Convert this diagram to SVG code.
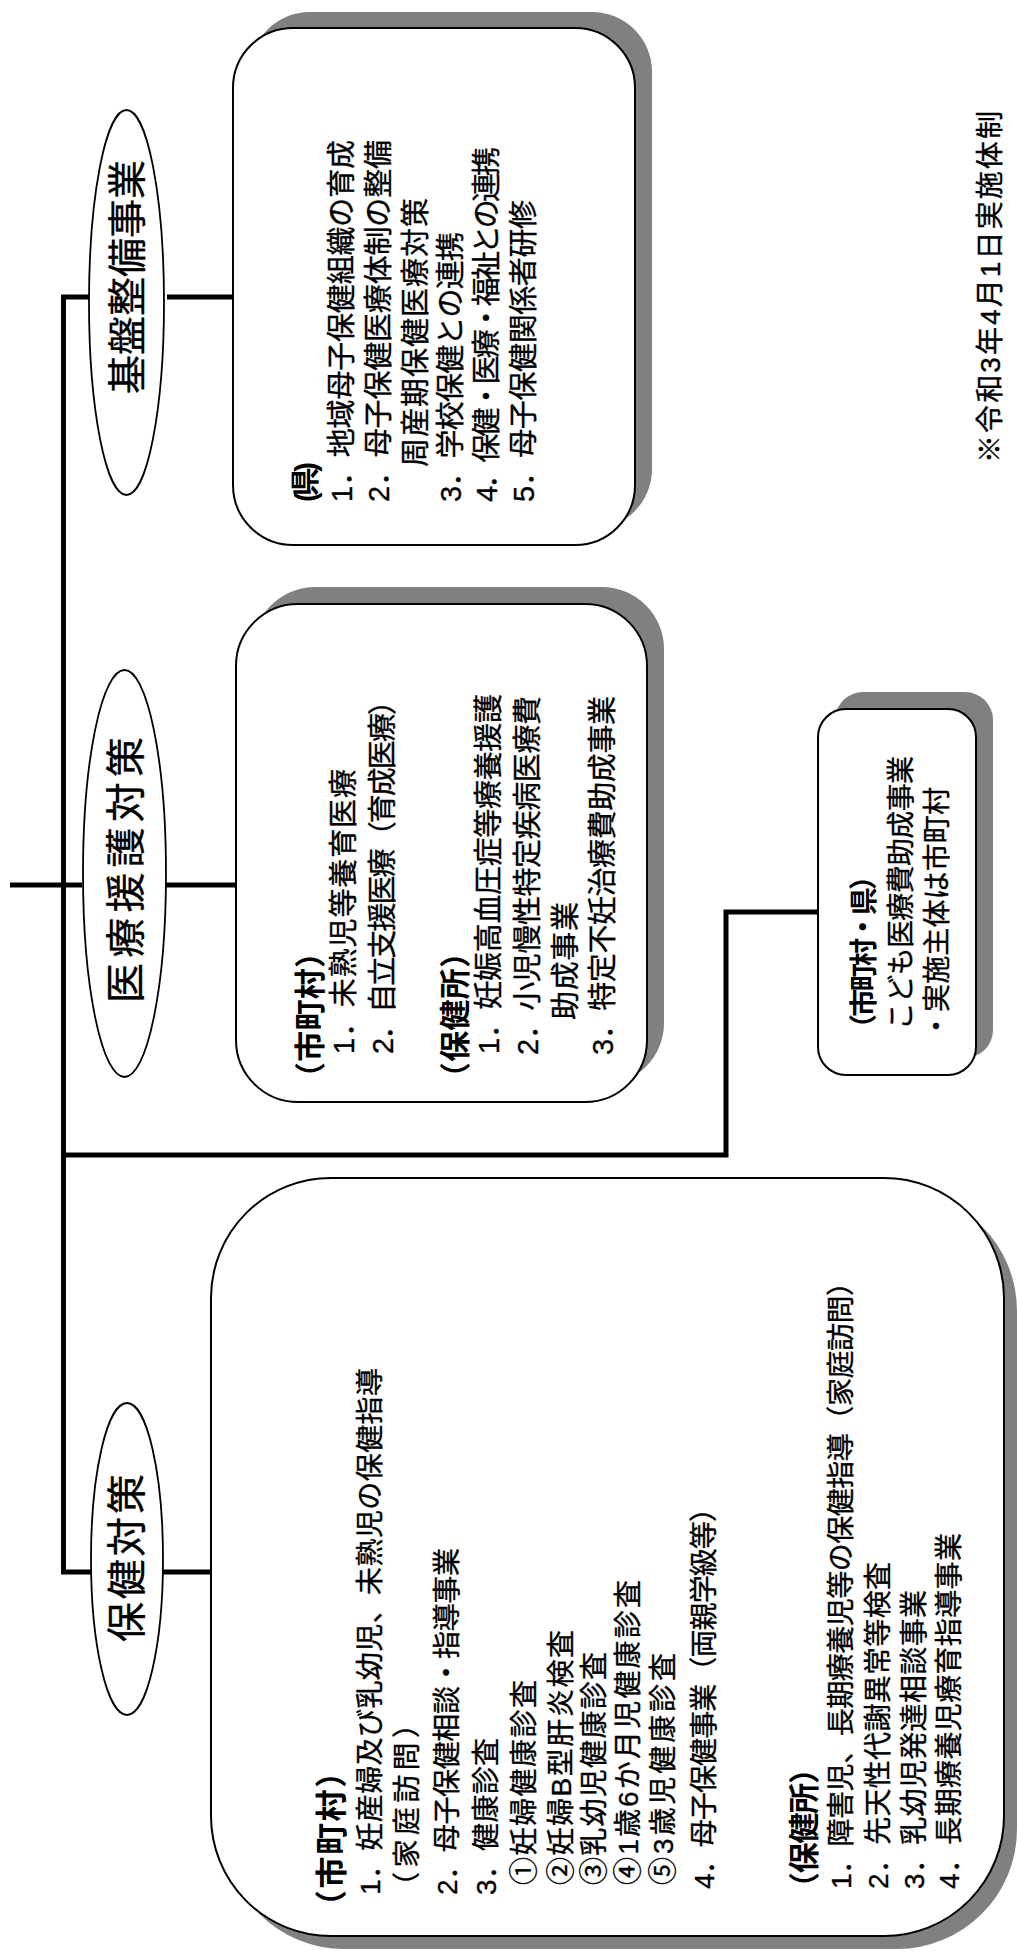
<svg xmlns="http://www.w3.org/2000/svg" width="1017" height="1959" viewBox="0 0 1017 1959">
<style>
.t{font-family:"Liberation Sans","Noto Sans CJK JP",sans-serif;font-size:29px;fill:#000;stroke:#000;stroke-width:0.35;dominant-baseline:central}
.s{font-size:28px}
.b{font-weight:bold;stroke-width:0}
.h{font-size:31px}
.e{font-size:40px}
.box{fill:#fff;stroke:#000;stroke-width:2}
.sh{fill:#808080}
.el{fill:#fff;stroke:#000;stroke-width:1.8}
.ln{fill:none;stroke:#000;stroke-width:5;stroke-linejoin:miter}
</style>
<rect width="1017" height="1959" fill="#fff"/>
<g id="connectors">
<path class="ln" d="M92,297 H63.5 V1572 H91"/>
<path class="ln" d="M167,297 H233"/>
<path class="ln" d="M10,885 H82"/>
<path class="ln" d="M166,885 H236"/>
<path class="ln" d="M163,1572 H211"/>
<path class="ln" d="M63.5,1155 H726 V912 H818"/>
</g>
<g id="kiban">
<ellipse class="el" cx="126.5" cy="302.5" rx="37.5" ry="192.5"/>
<text class="t e" style="font-size:39px" transform="translate(127.5,394) rotate(-90)" textLength="234" lengthAdjust="spacing">基盤整備事業</text>
</g>
<g id="kiban-box">
<rect class="sh" x="250" y="12" width="402" height="517" rx="60"/>
<rect class="box" x="233" y="28" width="402" height="517" rx="60"/>
<text class="t b" transform="translate(306,502) rotate(-90)" textLength="40" lengthAdjust="spacing">(県)</text>
<text class="t" transform="translate(342,502) rotate(-90)" textLength="362" lengthAdjust="spacing">1．地域母子保健組織の育成</text>
<text class="t" transform="translate(379,502) rotate(-90)" textLength="362" lengthAdjust="spacing">2．母子保健医療体制の整備</text>
<text class="t" transform="translate(416,467) rotate(-90)" textLength="269" lengthAdjust="spacing">周産期保健医療対策</text>
<text class="t" transform="translate(451,502) rotate(-90)" textLength="270" lengthAdjust="spacing">3．学校保健との連携</text>
<text class="t" transform="translate(487,502) rotate(-90)" textLength="355" lengthAdjust="spacing">4．保健・医療・福祉との連携</text>
<text class="t" transform="translate(524,502) rotate(-90)" textLength="302" lengthAdjust="spacing">5．母子保健関係者研修</text>
</g>
<g id="iryo">
<ellipse class="el" cx="124.5" cy="873.5" rx="41.5" ry="203.5"/>
<text class="t e" transform="translate(126,1003) rotate(-90)" textLength="266" lengthAdjust="spacing">医療援護対策</text>
</g>
<g id="iryo-box">
<rect class="sh" x="253" y="587" width="411" height="498" rx="62"/>
<rect class="box" x="236" y="604" width="411" height="498" rx="62"/>
<text class="t b h" transform="translate(310,1093) rotate(-90)" textLength="156" lengthAdjust="spacing">（市町村）</text>
<text class="t" transform="translate(344,1054) rotate(-90)" textLength="285" lengthAdjust="spacing">1．未熟児等養育医療</text>
<text class="t" transform="translate(383,1054) rotate(-90)" textLength="368" lengthAdjust="spacing">2．自立支援医療（育成医療）</text>
<text class="t b h" transform="translate(455,1093) rotate(-90)" textLength="156" lengthAdjust="spacing">（保健所）</text>
<text class="t" transform="translate(489,1054) rotate(-90)" textLength="360" lengthAdjust="spacing">1．妊娠高血圧症等療養援護</text>
<text class="t" transform="translate(528,1055) rotate(-90)" textLength="359" lengthAdjust="spacing">2．小児慢性特定疾病医療費</text>
<text class="t" transform="translate(566,1020) rotate(-90)" textLength="118" lengthAdjust="spacing">助成事業</text>
<text class="t" transform="translate(603,1055) rotate(-90)" textLength="359" lengthAdjust="spacing">3．特定不妊治療費助成事業</text>
</g>
<g id="kodomo-box">
<rect class="sh" x="835" y="692" width="158" height="366" rx="28"/>
<rect class="box" x="818" y="709" width="158" height="366" rx="28"/>
<text class="t s b" transform="translate(864,1042) rotate(-90)" textLength="180" lengthAdjust="spacing">（市町村・県）</text>
<text class="t s" transform="translate(901,1030) rotate(-90)" textLength="274" lengthAdjust="spacing">こども医療費助成事業</text>
<text class="t s" transform="translate(937,1040) rotate(-90)" textLength="253" lengthAdjust="spacing">・実施主体は市町村</text>
</g>
<g id="hoken">
<ellipse class="el" cx="127" cy="1559" rx="36" ry="156"/>
<text class="t e" transform="translate(126.5,1642) rotate(-90)" textLength="168" lengthAdjust="spacing">保健対策</text>
</g>
<g id="hoken-box">
<rect class="sh" x="224" y="1191" width="793" height="758" rx="120"/>
<rect class="box" x="211" y="1178" width="793" height="758" rx="120"/>
<text class="t b h" style="font-size:32px" transform="translate(332,1922) rotate(-90)" textLength="166" lengthAdjust="spacing">（市町村）</text>
<text class="t s" transform="translate(370,1895) rotate(-90)" textLength="527" lengthAdjust="spacing">1．妊産婦及び乳幼児、未熟児の保健指導</text>
<text class="t s" transform="translate(407,1900) rotate(-90)" textLength="190" lengthAdjust="spacing">（家庭訪問）</text>
<text class="t s" transform="translate(447,1895) rotate(-90)" textLength="347" lengthAdjust="spacing">2．母子保健相談・指導事業</text>
<text class="t s" transform="translate(486,1895) rotate(-90)" textLength="157" lengthAdjust="spacing">3．健康診査</text>
<text class="t s" transform="translate(524,1885) rotate(-90)" textLength="205" lengthAdjust="spacing">①妊婦健康診査</text>
<text class="t s" transform="translate(561,1885) rotate(-90)" textLength="255" lengthAdjust="spacing">②妊婦B型肝炎検査</text>
<text class="t s" transform="translate(594,1885) rotate(-90)" textLength="233" lengthAdjust="spacing">③乳幼児健康診査</text>
<text class="t s" transform="translate(628,1885) rotate(-90)" textLength="305" lengthAdjust="spacing">④1歳6か月児健康診査</text>
<text class="t s" transform="translate(663,1885) rotate(-90)" textLength="232" lengthAdjust="spacing">⑤3歳児健康診査</text>
<text class="t s" transform="translate(704,1889) rotate(-90)" textLength="395" lengthAdjust="spacing">4．母子保健事業（両親学級等）</text>
<text class="t b h" transform="translate(804,1903) rotate(-90)" textLength="150" lengthAdjust="spacing">（保健所）</text>
<text class="t s" transform="translate(841,1889) rotate(-90)" textLength="621" lengthAdjust="spacing">1．障害児、長期療養児等の保健指導（家庭訪問）</text>
<text class="t s" transform="translate(878,1889) rotate(-90)" textLength="327" lengthAdjust="spacing">2．先天性代謝異常等検査</text>
<text class="t s" transform="translate(914,1889) rotate(-90)" textLength="299" lengthAdjust="spacing">3．乳幼児発達相談事業</text>
<text class="t s" transform="translate(949,1889) rotate(-90)" textLength="356" lengthAdjust="spacing">4．長期療養児療育指導事業</text>
</g>
<g id="note">
<text class="t s" transform="translate(990,463) rotate(-90)" textLength="352" lengthAdjust="spacing">※令和3年4月1日実施体制</text>
</g>
</svg>
